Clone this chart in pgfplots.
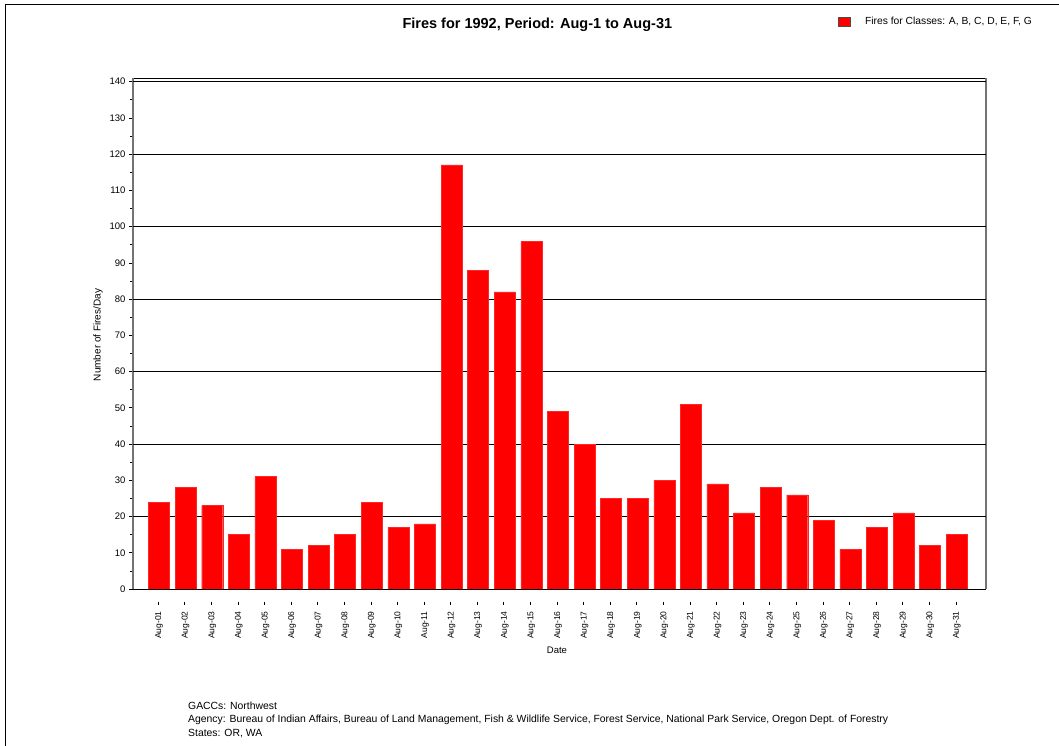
\documentclass[border=0pt]{standalone}
\usepackage{pgfplots}
\pgfplotsset{compat=1.18}
\usepackage{fontspec}
\setmainfont{Liberation Sans}
\newcommand{\T}[1]{Aug-#1\hspace{7pt}\rule[0.32em]{3pt}{0.6pt}}
\begin{document}
\begin{tikzpicture}[x=1pt,y=1pt]
\path[use as bounding box] (0,0) rectangle (1059,746);
\fill[white] (0,0) rectangle (1059,746);
\draw[black, line width=1pt] (5,0) -- (5,741) -- (1059,741);
\begin{axis}[
  at={(133pt,157pt)}, anchor=south west,
  width=853pt, height=511pt, scale only axis,
  xmin=0.02, xmax=32.1, ymin=0, ymax=141,
  separate axis lines,
  x axis line style={black, line width=0.8pt},
  y axis line style={black!55, line width=1.3pt},
  tick align=outside, xtick pos=bottom, ytick pos=left,
  ytick={0,10,...,140}, minor y tick num=1,
  major tick length=4pt, minor tick length=3pt,
  tick style={black, line width=0.6pt},
  x tick style={draw=none},
  extra y ticks={20,40,...,140}, extra y tick labels={},
  extra y tick style={grid=major, major grid style={black, line width=0.8pt}, major tick length=0pt},
  xtick={1,...,31},
  xticklabels={\T{01},\T{02},\T{03},\T{04},\T{05},\T{06},\T{07},\T{08},\T{09},\T{10},\T{11},\T{12},\T{13},\T{14},\T{15},\T{16},\T{17},\T{18},\T{19},\T{20},\T{21},\T{22},\T{23},\T{24},\T{25},\T{26},\T{27},\T{28},\T{29},\T{30},\T{31}},
  x tick label style={rotate=90, anchor=east, font=\fontsize{8.5}{10}\selectfont, xshift=-5pt},
  y tick label style={font=\fontsize{9.5}{10}\selectfont},
  /pgf/number format/assume math mode=true,
  title={Fires for 1992, Period: Aug-1 to Aug-31},
  title style={at={(axis description cs:0.474,1.092)}, anchor=center, font=\bfseries\fontsize{14.5}{16}\selectfont},
  xlabel={Date},
  xlabel style={at={(axis description cs:0.497,-0.119)}, anchor=center, font=\fontsize{9.5}{10}\selectfont},
  ylabel={Number of Fires/Day},
  ylabel style={at={(axis description cs:-0.041,0.497)}, anchor=center, font=\fontsize{10}{11}\selectfont},
  legend style={at={(axis description cs:0.826,1.1096)}, anchor=west, draw=none, fill=none, font=\fontsize{10.3}{11}\selectfont, inner sep=0pt},
  legend image code/.code={\draw[fill=red, draw=black!70, line width=0.5pt] (0pt,-4.5pt) rectangle (12pt,4.5pt); \path[draw=none, fill=none] (0pt,0pt) -- (25pt,0pt);},
]
\addplot[ybar, bar width=0.79, fill=red, draw=red!85!white, line width=0.4pt] coordinates {
(1,24) (2,28) (3,23) (4,15) (5,31) (6,11) (7,12) (8,15) (9,24) (10,17)
(11,18) (12,117) (13,88) (14,82) (15,96) (16,49) (17,40) (18,25) (19,25) (20,30)
(21,51) (22,29) (23,21) (24,28) (25,26) (26,19) (27,11) (28,17) (29,21) (30,12) (31,15)
};
\addlegendentry{Fires for Classes: A, B, C, D, E, F, G}
\end{axis}
\begin{scope}[every node/.style={anchor=west, inner sep=0pt, font=\fontsize{10.4}{11}\selectfont}]
\node at (188,746-706) {GACCs: Northwest};
\node at (188,746-720) {Agency: Bureau of Indian Affairs, Bureau of Land Management, Fish \& Wildlife Service, Forest Service, National Park Service, Oregon Dept. of Forestry};
\node at (188,746-734) {States: OR, WA};
\end{scope}
\end{tikzpicture}
\end{document}
